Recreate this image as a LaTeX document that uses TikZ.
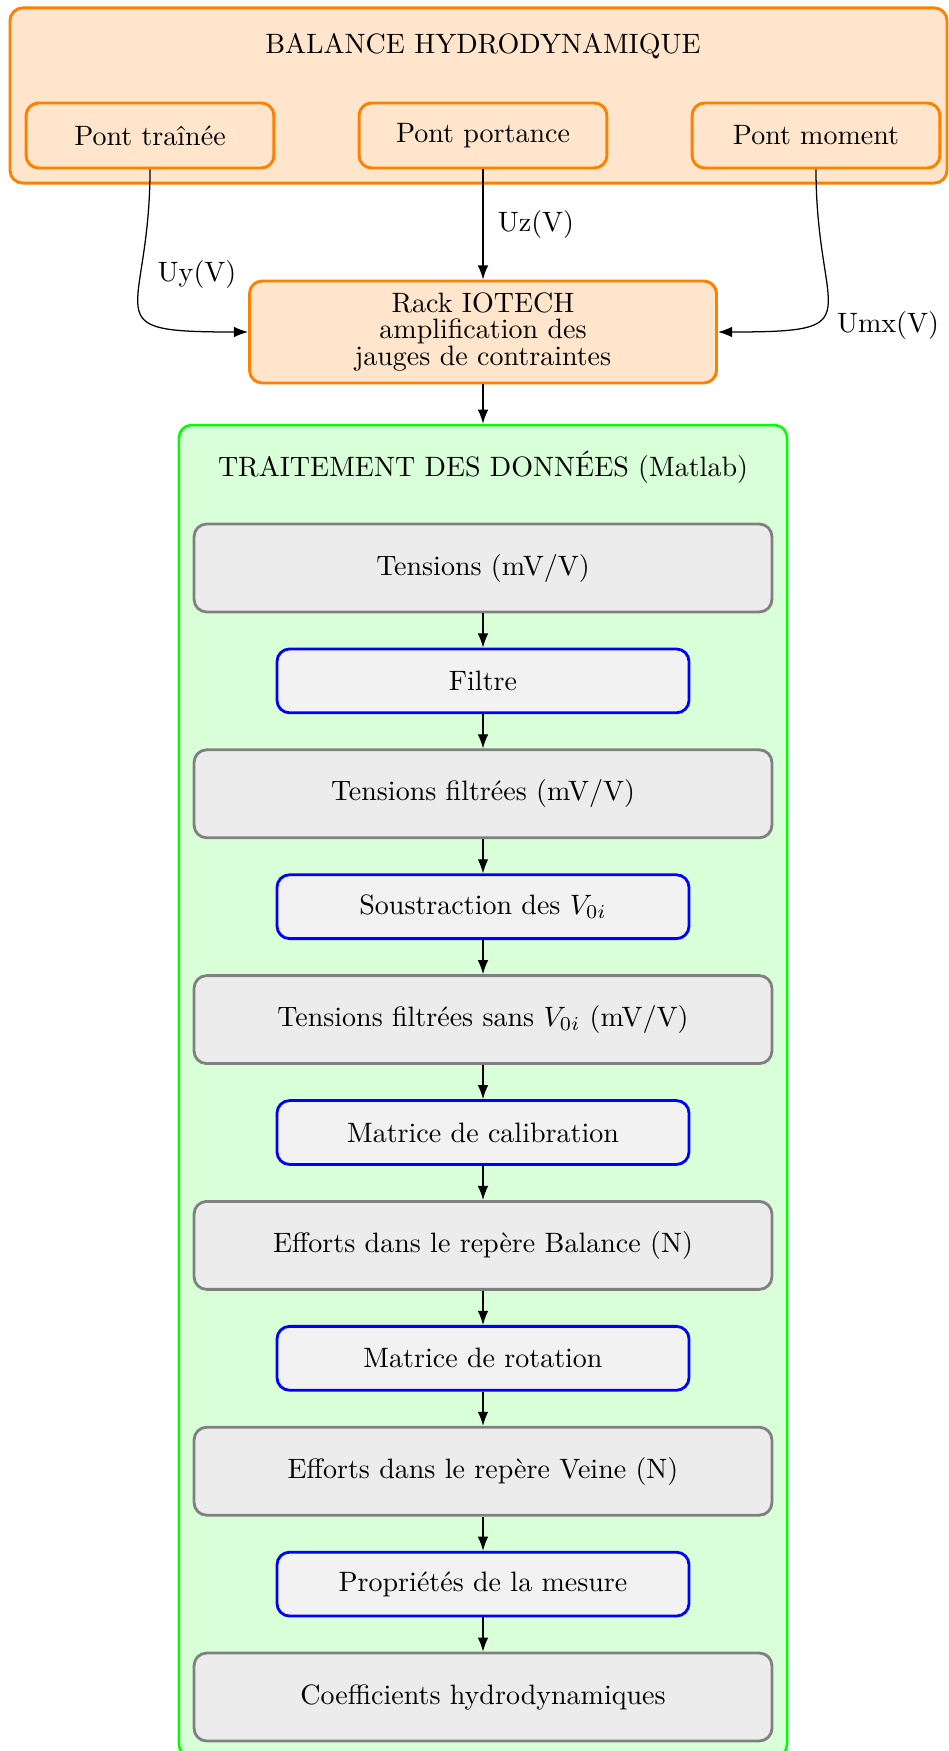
\documentclass[tikz,border=0pt]{standalone}
\usetikzlibrary{arrows.meta}
\begin{document}
\begin{tikzpicture}[x=0.357pt,y=-0.357pt,
  every node/.style={font=\fontsize{10pt}{12pt}\selectfont},
  obox/.style={draw=orange, fill=orange!20, line width=1.05pt, rounded corners=4.5pt},
  gbox/.style={draw=gray, fill=gray!15, line width=1pt, rounded corners=4.5pt, minimum width=206.3pt, minimum height=31.4pt},
  bbox/.style={draw=blue, fill=gray!10, line width=1pt, rounded corners=4.5pt, minimum width=147.1pt, minimum height=22.8pt},
  pont/.style={obox, minimum width=88.5pt, minimum height=23.2pt},
  arr/.style={-{Latex}, line width=0.45pt}]
\useasboundingbox (0,0) rectangle (948,1751);
% outer boxes
\node[obox, minimum width=334.5pt, minimum height=62.5pt] (bal) at (478.5,95.5) {};
\node (baltitle) at (483,46) {BALANCE HYDRODYNAMIQUE};
\node[pont] (tr) at (150,135.5) {Pont traînée};
\node[pont] (po) at (483,135.5) {Pont portance};
\node[pont] (mo) at (816,135.5) {Pont moment};
\node[obox, minimum width=166.7pt, minimum height=36.4pt, align=center, font=\fontsize{10pt}{9.6pt}\selectfont] (rack) at (483,332) {Rack IOTECH\\amplification des\\jauges de contraintes};
\node[draw=green, fill=green!15, line width=0.9pt, rounded corners=4.5pt, minimum width=217.1pt, minimum height=475.5pt] (trait) at (483,1091) {};
\node (trtitle) at (483,467) {TRAITEMENT DES DONNÉES (Matlab)};
% chain
\node[gbox] (n1) at (483,568) {Tensions (mV/V)};
\node[bbox] (n2) at (483,680.9) {Filtre};
\node[gbox] (n3) at (483,793.8) {Tensions filtrées (mV/V)};
\node[bbox] (n4) at (483,906.7) {Soustraction des $V_{0i}$};
\node[gbox] (n5) at (483,1019.6) {Tensions filtrées sans $V_{0i}$ (mV/V)};
\node[bbox] (n6) at (483,1132.5) {Matrice de calibration};
\node[gbox] (n7) at (483,1245.4) {Efforts dans le repère Balance (N)};
\node[bbox] (n8) at (483,1358.3) {Matrice de rotation};
\node[gbox] (n9) at (483,1471.2) {Efforts dans le repère Veine (N)};
\node[bbox] (n10) at (483,1584.1) {Propriétés de la mesure};
\node[gbox] (n11) at (483,1697) {Coefficients hydrodynamiques};
% connectors
\draw[arr] (tr.south) .. controls +(0,150) and +(-158,0) .. (rack.west);
\draw[arr] (mo.south) .. controls +(0,150) and +(158,0) .. (rack.east);
\draw[arr] (po.south) -- (rack.north);
\draw[arr] (rack.south) -- (trait.north);
\foreach \a/\b in {n1/n2,n2/n3,n3/n4,n4/n5,n5/n6,n6/n7,n7/n8,n8/n9,n9/n10,n10/n11}
  \draw[arr] (\a.south) -- (\b.north);
% labels
\node (luy) at (197,274) {Uy(V)};
\node (luz) at (536,224) {Uz(V)};
\node (lumx) at (888,325) {Umx(V)};
\end{tikzpicture}
\end{document}
